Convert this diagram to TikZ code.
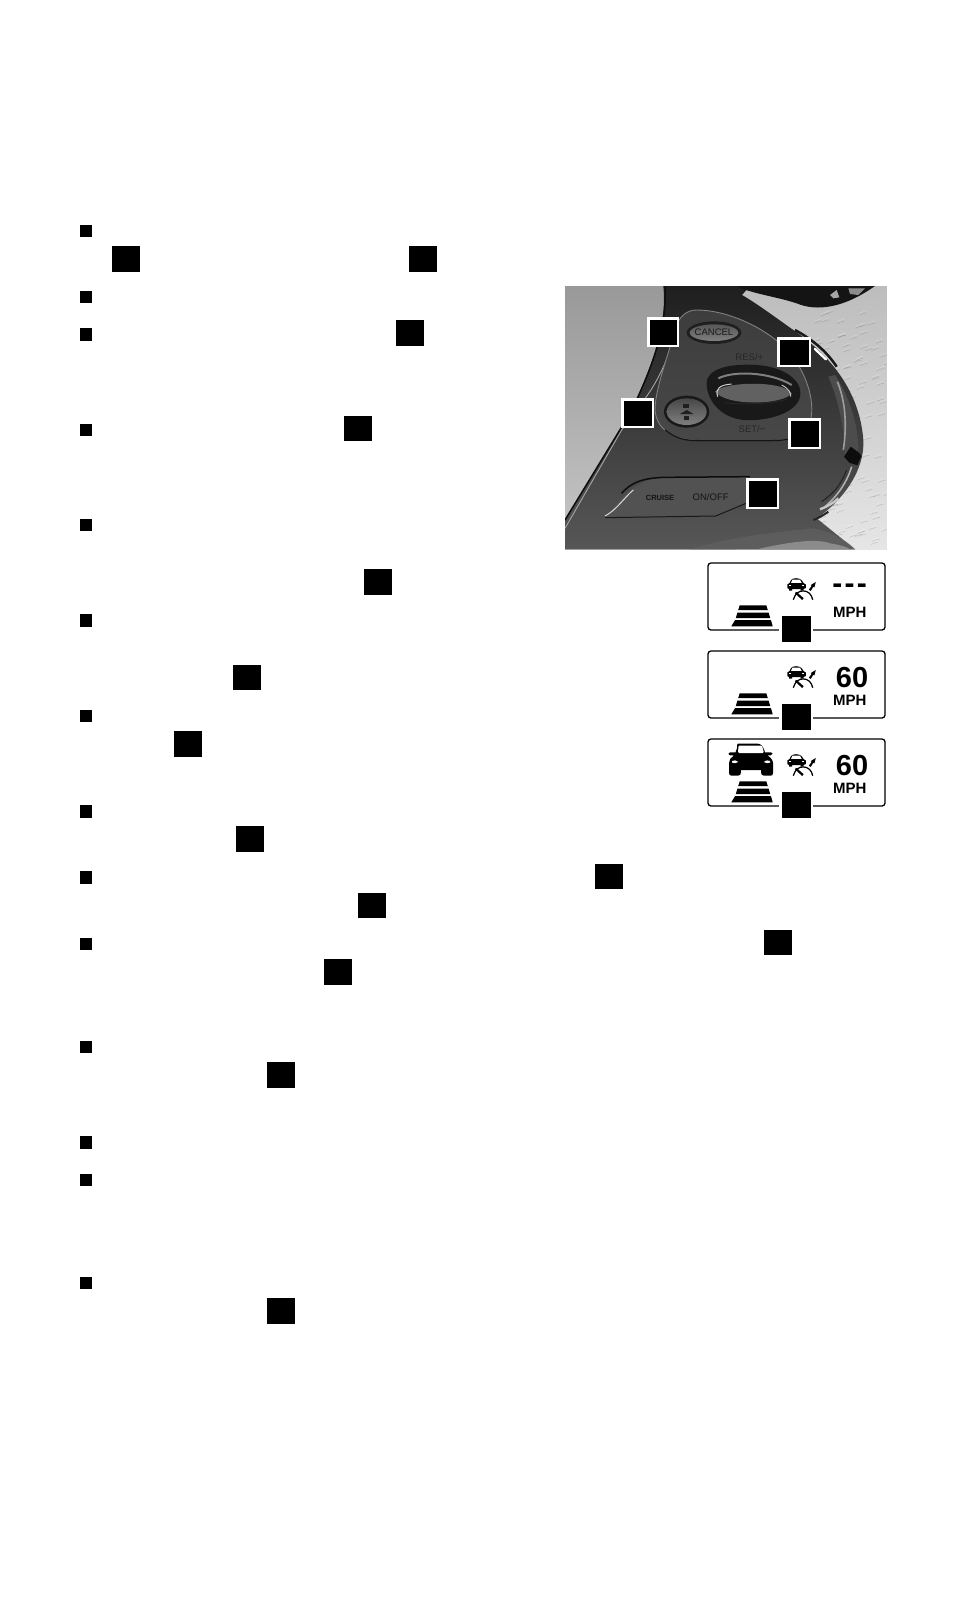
\documentclass[tikz,border=0pt]{standalone}
\usepackage{fontspec}
\newfontfamily\lib{Liberation Sans}
\definecolor{gA}{gray}{0.12}
\definecolor{gB}{gray}{0.26}
\definecolor{gC}{gray}{0.34}
\tikzset{
  blk/.style={fill=black,draw=none},
  ptxt/.style={inner sep=0pt,font=\lib\fontsize{9.5}{10}\selectfont,text=black!85},
  dsp/.style={inner sep=0pt},
  boxline/.style={draw=black,line width=1.3pt,rounded corners=3pt,fill=white},
}
% #1 top of the panel, #2 name prefix, #3 extra contents
\newcommand{\dispbox}[3]{%
 \begin{scope}[shift={(708,#1)}]
  \path[boxline] (0,0) rectangle (177,67);
  \fill[white] (71,64) rectangle (105,70);
  \fill[black] (74,53) rectangle (103,79);
  % road
  \fill[black] (31.7,42.3) -- (58.3,42.3) -- (59.8,47) -- (30.2,47) -- cycle;
  \fill[black] (29.4,49.7) -- (60.6,49.7) -- (62.2,55) -- (27.8,55) -- cycle;
  \fill[black] (27.1,57) -- (62.9,57) -- (64.7,63.3) -- (23.3,63.3) -- cycle;
  % lane-keeping icon: car
  \fill[black] (79.3,25) -- (79.3,21.5) .. controls (80,20.5) and (81,20.3) .. (81.5,20) -- (83,17)
     .. controls (85,14.6) and (91,14.6) .. (93.5,17) -- (95.5,20) .. controls (96.5,20.3) and (97.5,20.5) .. (97.8,21.5)
     -- (97.8,25) -- (95.5,26) -- (95.5,27.5) -- (92.5,27.5) -- (92.5,26) -- (84,26) -- (84,27.5) -- (81,27.5) -- (81,26) -- cycle;
  \fill[white] (84.5,16.6) -- (92,16.6) -- (93.6,19.8) -- (83,19.8) -- cycle;
  \fill[white] (81,22.2) rectangle (83.3,23.2);
  \fill[white] (93.8,22.2) rectangle (96.1,23.2);
  \draw[black,line width=1.25pt] (85.3,36.7) .. controls (87,30.5) and (91,27.9) .. (95,27.9) .. controls (100,27.9) and (103.5,31) .. (104.7,36.7);
  \fill[black] (86.8,30.2) -- (88.4,28.8) -- (95.6,35.2) -- (94.2,37) -- cycle;
  \fill[black] (100.8,26.8) -- (103.6,22.8) -- (102.8,22) -- (107.8,19) -- (106.4,24.4) -- (105.4,23.6) -- (102.8,27.8) -- cycle;
  #3
  \node[dsp,font=\lib\bfseries\fontsize{15}{15}\selectfont] (#2mph) at (141.7,49.5) {MPH};
 \end{scope}}
\begin{document}
\begin{tikzpicture}[x=1pt,y=-1pt]
\useasboundingbox (0,0) rectangle (954,1622);
\fill[white] (0,0) rectangle (954,1622);
% bullets
\foreach \a/\b in {225/237,291/303,328/341,424/436,519/531,614/627,710/722,805/818,871/884,938/950,1041/1053,1136/1149,1174/1186,1277/1289}
  \fill[blk] (80,\a) rectangle (92,\b);
% callout squares in the text
\foreach \a/\b/\c/\d in {112/246/140/272,409/246/437/272,396/320/424/346,344/416/372/441,364/569/392/595,233/665/261/690,174/731/202/757,236/826/264/852,358/893/386/918,324/959/352/985,267/1062/295/1088,267/1298/295/1324,595/864/623/889,764/930/792/955}
  \fill[blk] (\a,\b) rectangle (\c,\d);
% photograph
\begin{scope}[shift={(550,280)},x=0.33333pt,y=-0.33333pt]
 \clip (45,18) rectangle (1010,808);
 \shade[top color=black!40,bottom color=black!22] (45,18) rectangle (1010,808);
 % leather
 \shade[top color=black!26,bottom color=black!10] (560,18) rectangle (1010,808);
 \pgfmathsetseed{7}
 \foreach \i in {1,...,120}{
   \pgfmathsetmacro{\px}{790+215*rnd}
   \pgfmathsetmacro{\py}{90+700*rnd}
   \draw[white,opacity=.28,line width=.5pt] (\px,\py) .. controls +(6,-5) and +(12,-3) .. +(18,-8);
   \draw[black,opacity=.14,line width=.5pt] (\px,\py+5) .. controls +(6,-5) and +(12,-3) .. +(18,-6);
 }
 % console body
 \shade[top color=gA,middle color=gB,bottom color=gC]
   (340,18) .. controls (350,120) and (320,230) .. (240,400) -- (45,720) -- (45,808) -- (915,808) -- (800,715)
   .. controls (880,660) and (945,570) .. (940,480) .. controls (930,350) and (860,240) .. (730,150)
   .. controls (680,115) and (620,70) .. (576,45) -- (600,18) -- cycle;
 \fill[black!62,opacity=.7] (420,808) .. controls (520,775) and (680,755) .. (790,745) .. controls (850,755) and (900,790) .. (915,808) -- cycle;
 \fill[black!42,opacity=.85] (620,808) .. controls (720,785) and (800,775) .. (840,790) .. controls (870,795) and (890,800) .. (900,808) -- cycle;
 % stalk
 \fill[black!92] (560,18) .. controls (600,40) and (680,50) .. (740,70) .. controls (800,95) and (880,85) .. (975,18) -- cycle;
 \fill[black!35] (840,45) -- (860,30) -- (868,52) -- (850,55) -- cycle;
 \fill[black!45] (895,25) -- (945,25) -- (925,45) -- (900,42) -- cycle;
 % chrome rim
 \draw[black!90,line width=2.5pt] (735,150) .. controls (790,180) and (830,215) .. (860,260);
 \draw[white,line width=2.4pt,line cap=round] (795,207) -- (828,238);
 \fill[black!70] (855,285) .. controls (895,345) and (925,430) .. (925,510) -- (885,530) .. controls (885,450) and (865,360) .. (835,290) -- cycle;
 \draw[black!38,line width=1.6pt] (862,305) .. controls (885,360) and (892,430) .. (880,510);
 \fill[black!95] (882,530) -- (902,500) .. controls (915,510) and (932,520) .. (934,528) -- (922,556) -- (898,548) -- cycle;
 \draw[black!30,line width=1.5pt] (905,560) .. controls (890,610) and (860,650) .. (825,680);
 \draw[black!85,line width=1.2pt] (890,570) .. controls (870,620) and (850,640) .. (815,665);
 \draw[black!22,line width=2.4pt] (810,688) .. controls (830,680) and (850,670) .. (865,655);
 \draw[black!85,line width=2pt] (790,720) .. controls (805,715) and (820,705) .. (835,695);
 % left edge lines
 \draw[black!95,line width=1.5pt] (345,18) .. controls (350,120) and (325,230) .. (240,400) -- (45,720);
 \draw[black!35,line width=.9pt] (45,745) -- (215,450) .. controls (270,370) and (310,340) .. (355,225);
 % inner panel
 \shade[top color=black!76,bottom color=black!72,draw=black!50,line width=.9pt]
   (440,90) .. controls (520,90) and (620,130) .. (690,190) .. controls (750,240) and (790,330) .. (785,400)
   .. controls (780,460) and (740,482) .. (660,482) -- (450,482) .. controls (370,480) and (320,450) .. (315,390)
   .. controls (315,330) and (350,240) .. (375,150) .. controls (385,110) and (410,90) .. (440,90) -- cycle;
 \draw[black!92,line width=1.3pt] (345,450) .. controls (380,478) and (410,482) .. (450,482) -- (660,482) .. controls (720,482) and (760,470) .. (775,440);
 % cancel button
 \fill[black!88] (492,158) ellipse [x radius=82,y radius=34];
 \shade[top color=black!66,bottom color=black!50] (492,158) ellipse [x radius=73,y radius=25];
 \node[ptxt,text=black!90] (cancel) at (492,158) {CANCEL};
 \node[ptxt] (res) at (598,232) {RES/+};
 \node[ptxt] (set) at (606,448) {SET/−};
 % switch
 \fill[black!90] (470,310) .. controls (470,265) and (540,250) .. (620,255) .. controls (700,260) and (760,300) .. (750,350)
   .. controls (740,400) and (650,425) .. (580,420) .. controls (510,412) and (470,360) .. (470,310) -- cycle;
 \draw[black!50,line width=2pt] (505,295) .. controls (550,272) and (660,275) .. (725,315);
 \fill[black!62] (495,335) .. controls (520,305) and (700,300) .. (725,340) .. controls (700,375) and (530,380) .. (495,335) -- cycle;
 \draw[black!18,line width=1pt] (503,350) .. controls (495,325) and (510,315) .. (545,312);
 \draw[black!25,line width=1pt] (695,315) .. controls (715,325) and (725,340) .. (722,350);
 \draw[black!85,line width=1pt] (520,368) .. controls (580,375) and (660,372) .. (710,358);
 % knob
 \fill[black!90] (410,395) ellipse [x radius=68,y radius=48];
 \shade[top color=black!72,bottom color=black!50] (410,395) ellipse [x radius=60,y radius=40];
 \fill[black!88] (400,372) rectangle (416,384);
 \fill[black!88] (390,402) -- (410,390) -- (430,402) -- cycle;
 \fill[black!88] (402,408) rectangle (416,420);
 % cruise button
 \fill[black!68] (165,710) .. controls (210,660) and (250,600) .. (340,592) -- (600,590) -- (600,665) -- (497,708) -- cycle;
 \draw[black!95,line width=1.5pt] (215,640) .. controls (250,600) and (290,595) .. (340,592) -- (600,590);
 \draw[black!90,line width=1pt] (165,713) -- (497,708) -- (600,665);
 \draw[black!15,line width=1pt] (165,708) .. controls (200,690) and (225,650) .. (250,630);
 \node[ptxt,font=\lib\bfseries\fontsize{7.5}{8}\selectfont,text=black!92] (cruise) at (330,655) {CRUISE};
 \node[ptxt,font=\lib\fontsize{9.5}{10}\selectfont,text=black!92] (onoff) at (482,650) {ON/OFF};
\end{scope}
% white-framed squares on the photograph
\foreach \a/\b/\c/\d in {647/317/679/347,777/337/811/367,621/398/654/428,788/418/821/449,746/478/779/509}{
  \fill[white] (\a,\b) rectangle (\c,\d);
  \fill[black] (\a+2.5,\b+2.5) rectangle (\c-2.5,\d-2.5);
}
% display panels
\dispbox{563}{a}{%
  \node[dsp,font=\lib\bfseries\fontsize{30}{30}\selectfont] (adash) at (141.7,26) {-\kern2.3pt-\kern2.3pt-};
}
\dispbox{651}{b}{%
  \node[dsp,font=\lib\bfseries\fontsize{29}{29}\selectfont] (b60) at (144,26.7) {60};
}
\dispbox{739}{c}{%
  \node[dsp,font=\lib\bfseries\fontsize{29}{29}\selectfont] (c60) at (144,26.7) {60};
  % car seen from behind
  \fill[black] (30,4.6) -- (49,4.6) .. controls (53,4.6) and (54.5,7) .. (56,10.5) -- (57,13.5)
    .. controls (60,13) and (64,13) .. (64.5,14.5) .. controls (64.5,16.5) and (61,17) .. (59.5,16.5)
    .. controls (62,18) and (65,21) .. (65,24) -- (65,34) .. controls (65,36.5) and (64,36.7) .. (62,36.7) -- (56,36.7)
    .. controls (54,36.7) and (53,36) .. (53,31) -- (33,31) .. controls (33,36) and (32,36.7) .. (30,36.7) -- (24,36.7)
    .. controls (22,36.7) and (21,36) .. (21,34) -- (21,24) .. controls (21,21) and (23,18) .. (26,16.5)
    .. controls (24,17) and (20.5,16.5) .. (20.5,14.5) .. controls (21,13) and (25,13) .. (27.5,13.5) -- (29,9) .. controls (29,6) and (29,5) .. (30,4.6) -- cycle;
  \fill[white,rounded corners=1.2pt] (30.5,6.5) -- (54,6.5) -- (56,14) -- (30,14) -- cycle;
  \fill[white] (24,22) .. controls (26,21) and (28.5,21) .. (30.5,23) .. controls (28,24.5) and (25,24.5) .. (24,23.5) -- cycle;
  \fill[white] (62,22) .. controls (60,21) and (57.5,21) .. (55.5,23) .. controls (58,24.5) and (61,24.5) .. (62,23.5) -- cycle;
}
\end{tikzpicture}
\end{document}
